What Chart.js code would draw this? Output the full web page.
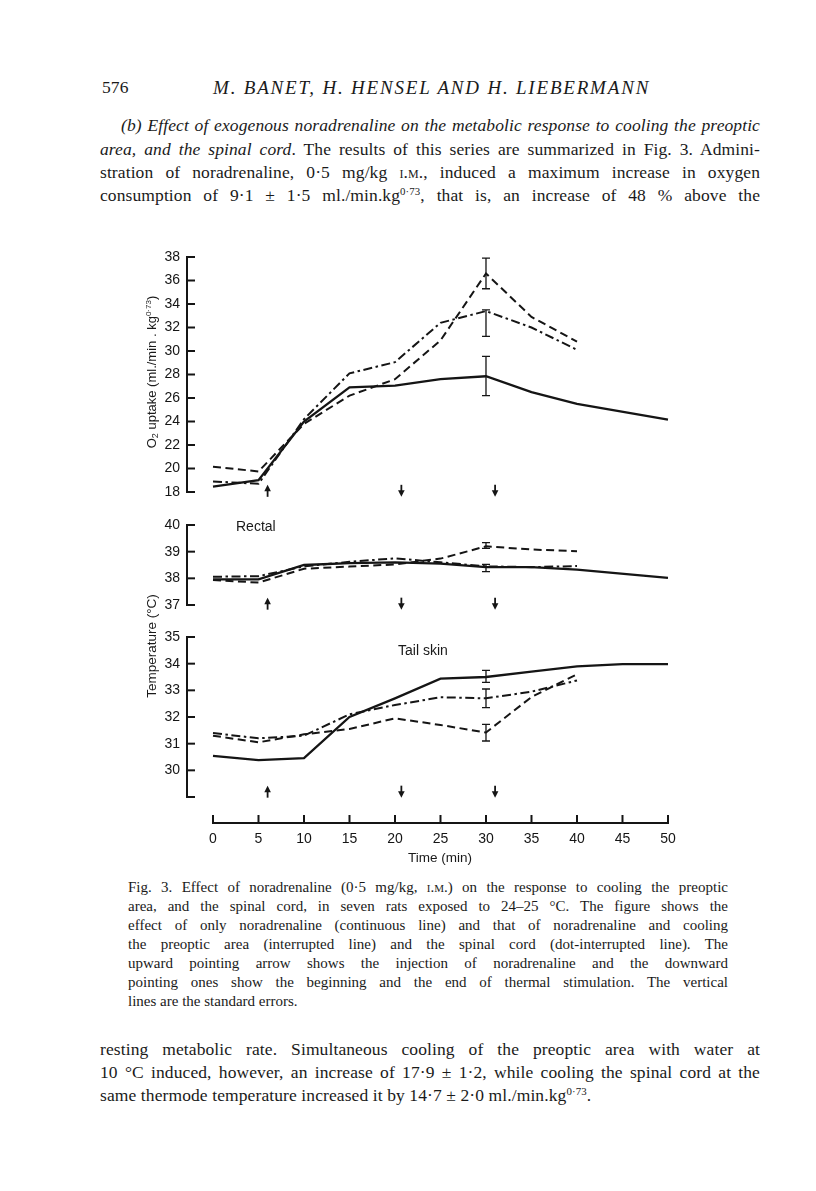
<!DOCTYPE html>
<html>
<head>
<meta charset="utf-8">
<script src="https://cdn.jsdelivr.net/npm/chart.js@4.4.0/dist/chart.umd.min.js"></script>
<style>
  body { margin: 0; background: #fff; }
  #page { position: relative; width: 816px; height: 1191px; overflow: hidden; background: #fff;
          font-family: "Liberation Serif", "Times New Roman", serif; color: #1a1a1a; }
  .ln { position: absolute; left: 100px; width: 660px; height: 23px; line-height: 23px; font-size: 17.5px;
        text-align: justify; text-align-last: justify; letter-spacing: 0.1px; }
  .cap { position: absolute; left: 128px; width: 600px; height: 19px; line-height: 19px; font-size: 15px;
         text-align: justify; text-align-last: justify; }
  .left { text-align: left; text-align-last: left; }
  .sc { font-variant: small-caps; }
  sup { font-size: 62%; line-height: 0; vertical-align: 0.6em; }
  sub { font-size: 70%; line-height: 0; vertical-align: -0.25em; }
  .lab { position: absolute; font-family: "Liberation Sans", Arial, sans-serif; font-size: 13px;
         color: #1a1a1a; white-space: nowrap; line-height: 15px; }
  .ctr { transform: translate(-50%, -50%); }
  .rot { transform: translate(-50%, -50%) rotate(-90deg); }
  canvas { position: absolute; }
</style>
</head>
<body>
<div id="page">
  <div class="ln left" style="top:76px;left:102px;width:60px">576</div>
  <div class="ln left" style="top:76px;left:213px;width:480px;font-size:19px;font-style:italic;letter-spacing:1.8px">M. BANET, H. HENSEL AND H. LIEBERMANN</div>

  <div class="ln" style="top:114px;left:121px;width:639px"><i>(b) Effect of exogenous noradrenaline on the metabolic response to cooling the preoptic</i></div>
  <div class="ln" style="top:138px"><i>area, and the spinal cord</i>. The results of this series are summarized in Fig. 3. Admini-</div>
  <div class="ln" style="top:161px">stration of noradrenaline, 0·5 mg/kg <span class="sc">i.m.</span>, induced a maximum increase in oxygen</div>
  <div class="ln" style="top:184px">consumption of 9·1 ± 1·5 ml./min.kg<sup>0·73</sup>, that is, an increase of 48 % above the</div>

  <canvas id="o2" width="600" height="255" style="left:120px;top:247px"></canvas>
  <canvas id="rectal" width="600" height="100" style="left:120px;top:515px"></canvas>
  <canvas id="tail" width="600" height="226" style="left:120px;top:627px"></canvas>

  <div class="lab rot" style="left:151px;top:372px">O<sub>2</sub> uptake (ml./min . kg<sup>0·73</sup>)</div>
  <div class="lab rot" style="left:151px;top:646px;font-size:13.5px">Temperature (°C)</div>
  <div class="lab" style="left:236px;top:519px;font-size:14px">Rectal</div>
  <div class="lab" style="left:398px;top:643px;font-size:14px">Tail skin</div>
  <div class="lab ctr" style="left:440px;top:857px;font-size:13.5px">Time (min)</div>

  <div class="cap" style="top:878px">Fig. 3. Effect of noradrenaline (0·5 mg/kg, <span class="sc">i.m.</span>) on the response to cooling the preoptic</div>
  <div class="cap" style="top:897px">area, and the spinal cord, in seven rats exposed to 24–25 °C. The figure shows the</div>
  <div class="cap" style="top:916px">effect of only noradrenaline (continuous line) and that of noradrenaline and cooling</div>
  <div class="cap" style="top:935px">the preoptic area (interrupted line) and the spinal cord (dot-interrupted line). The</div>
  <div class="cap" style="top:954px">upward pointing arrow shows the injection of noradrenaline and the downward</div>
  <div class="cap" style="top:973px">pointing ones show the beginning and the end of thermal stimulation. The vertical</div>
  <div class="cap left" style="top:992px">lines are the standard errors.</div>

  <div class="ln" style="top:1038px">resting metabolic rate. Simultaneous cooling of the preoptic area with water at</div>
  <div class="ln" style="top:1061px">10 °C induced, however, an increase of 17·9 ± 1·2, while cooling the spinal cord at the</div>
  <div class="ln left" style="top:1084px">same thermode temperature increased it by 14·7 ± 2·0 ml./min.kg<sup>0·73</sup>.</div>
</div>

<script>
// time points (min); null = no point at that time
const minutes = [0, 5, 10, 15, 20, 25, 30, 35, 40, 45, 50];

// O2 uptake (ml./min.kg^0.73)
const o2Noradrenaline = [18.45, 19.0, 24.0, 26.9, 27.05, 27.6, 27.85, 26.5, 25.5, null, 24.15];
const o2Preoptic      = [20.15, 19.75, 23.8, 26.2, 27.6, 30.9, 36.6, 32.9, 30.8];
const o2Spinal        = [18.9, 18.7, 24.2, 28.1, 29.05, 32.4, 33.4, 32.0, 30.1];
const o2ErrLow  = [26.2, 35.3, 31.25];
const o2ErrHigh = [29.55, 37.9, 33.5];
const o2Ticks = [18, 20, 22, 24, 26, 28, 30, 32, 34, 36, 38];

// rectal temperature (°C)
const rectalNoradrenaline = [37.96, 37.96, 38.5, 38.57, 38.6, 38.55, 38.42, 38.42, 38.33, null, 38.02];
const rectalPreoptic      = [37.94, 37.84, 38.36, 38.44, 38.52, 38.74, 39.2, 39.08, 39.02];
const rectalSpinal        = [38.06, 38.08, 38.45, 38.62, 38.75, 38.6, 38.45, 38.42, 38.46];
const rectalErrLow  = [38.25, 39.12];
const rectalErrHigh = [38.52, 39.34];
const rectalTicks = [37, 38, 39, 40];

// tail skin temperature (°C)
const tailNoradrenaline = [30.54, 30.38, 30.46, 32.0, 32.7, 33.44, 33.5, 33.7, 33.9, 33.98, 33.98];
const tailPreoptic      = [31.3, 31.05, 31.35, 31.55, 31.95, 31.7, 31.42, 32.75, 33.6];
const tailSpinal        = [31.4, 31.2, 31.3, 32.1, 32.45, 32.74, 32.7, 32.95, 33.37];
const tailErrLow  = [33.3, 31.1, 32.35];
const tailErrHigh = [33.75, 31.72, 33.05];
const tailTicks = [29, 30, 31, 32, 33, 34, 35];

const errTime = 30;
const timeTicks = [0, 5, 10, 15, 20, 25, 30, 35, 40, 45, 50];

// injection (up) and start/end of cooling (down)
const arrowTimes = [6, 20.7, 31];
const arrowUp = [true, false, false];

const INK = "#151515";
const SANS = "'Liberation Sans', Arial, sans-serif";
const X_MIN = -2.857, X_MAX = 51.32;
const SOLID = [], DASHED = [8, 4.5], DOTDASH = [9, 3.5, 2.5, 3.5];

function series(vals) {
  return vals.map((v, i) => ({ x: minutes[i], y: v })).filter((p) => p.y != null);
}

function line(data, dash) {
  return {
    data: series(data),
    borderColor: INK,
    borderWidth: dash.length ? 2 : 2.3,
    borderDash: dash,
    pointRadius: 0,
    tension: 0,
    spanGaps: true,
  };
}

function drawArrow(ctx, x, y, up) {
  const d = up ? -1 : 1;
  const tip = y + d * 6;
  ctx.lineWidth = 1.8;
  ctx.beginPath();
  ctx.moveTo(x, y - d * 6);
  ctx.lineTo(x, tip - d * 3);
  ctx.stroke();
  ctx.beginPath();
  ctx.moveTo(x, tip);
  ctx.lineTo(x - 3.3, tip - d * 6.5);
  ctx.lineTo(x + 3.3, tip - d * 6.5);
  ctx.closePath();
  ctx.fill();
}

const figurePlugin = {
  id: "figure",
  afterDatasetsDraw(chart, _args, o) {
    const { ctx, chartArea } = chart;
    const xs = chart.scales.x, ys = chart.scales.y;
    const left = chartArea.left;
    ctx.save();
    ctx.strokeStyle = INK;
    ctx.fillStyle = INK;

    // y axis with inward ticks
    ctx.lineWidth = 2;
    ctx.beginPath();
    ctx.moveTo(left, ys.getPixelForValue(o.axisMax) - 1);
    ctx.lineTo(left, ys.getPixelForValue(o.axisMin) + 1);
    ctx.stroke();
    ys.ticks.forEach((t) => {
      const p = ys.getPixelForValue(t.value);
      ctx.beginPath();
      ctx.moveTo(left - 1, p);
      ctx.lineTo(left + 8, p);
      ctx.stroke();
    });

    // standard errors
    ctx.lineWidth = 1.3;
    const ex = xs.getPixelForValue(errTime);
    o.errLow.forEach((lo, i) => {
      const a = ys.getPixelForValue(lo), b = ys.getPixelForValue(o.errHigh[i]);
      ctx.beginPath();
      ctx.moveTo(ex, a); ctx.lineTo(ex, b);
      ctx.moveTo(ex - 4, a); ctx.lineTo(ex + 4, a);
      ctx.moveTo(ex - 4, b); ctx.lineTo(ex + 4, b);
      ctx.stroke();
    });

    arrowTimes.forEach((t, i) => {
      drawArrow(ctx, xs.getPixelForValue(t), ys.getPixelForValue(o.arrowLevel), arrowUp[i]);
    });

    // detached time axis, ticks pointing up
    if (o.timeAxis) {
      const y0 = chartArea.bottom;
      ctx.lineWidth = 2;
      ctx.beginPath();
      ctx.moveTo(xs.getPixelForValue(timeTicks[0]) - 1, y0);
      ctx.lineTo(xs.getPixelForValue(timeTicks[timeTicks.length - 1]) + 1, y0);
      ctx.stroke();
      xs.ticks.forEach((t) => {
        const p = xs.getPixelForValue(t.value);
        ctx.beginPath();
        ctx.moveTo(p, y0);
        ctx.lineTo(p, y0 - 8);
        ctx.stroke();
      });
    }
    ctx.restore();
  },
};

function yScale(min, max, ticks, hide) {
  return {
    type: "linear",
    min, max,
    afterBuildTicks: (s) => { s.ticks = ticks.map((v) => ({ value: v })); },
    afterFit: (s) => { s.width = 67; s.paddingTop = 0; s.paddingBottom = 0; },
    grid: { display: false, drawTicks: false },
    border: { display: false },
    ticks: {
      color: INK, padding: 7, font: { family: SANS, size: 14 },
      callback: (v) => (hide && hide.includes(v) ? "" : v),
    },
  };
}

function panel(id, datasets, y, plug, timeAxis) {
  const x = timeAxis
    ? {
        type: "linear", min: X_MIN, max: X_MAX,
        afterBuildTicks: (s) => { s.ticks = timeTicks.map((v) => ({ value: v })); },
        afterFit: (s) => { s.height = 30; s.paddingLeft = 0; s.paddingRight = 0; },
        grid: { display: false, drawTicks: false },
        border: { display: false },
        ticks: { color: INK, padding: 8, autoSkip: false, maxRotation: 0, font: { family: SANS, size: 14 } },
      }
    : { type: "linear", min: X_MIN, max: X_MAX, display: false };

  new Chart(document.getElementById(id), {
    type: "line",
    data: { datasets },
    options: {
      responsive: false,
      animation: false,
      events: [],
      layout: { padding: { top: 10, bottom: timeAxis ? 0 : 10, left: 0, right: 40 } },
      plugins: { legend: { display: false }, tooltip: { enabled: false }, figure: { ...plug, timeAxis } },
      scales: { x, y },
    },
    plugins: [figurePlugin],
  });
}

panel("o2", [line(o2Noradrenaline, SOLID), line(o2Preoptic, DASHED), line(o2Spinal, DOTDASH)],
  yScale(18, 38, o2Ticks),
  { axisMin: 18, axisMax: 38, errLow: o2ErrLow, errHigh: o2ErrHigh, arrowLevel: 18.1 }, false);

panel("rectal", [line(rectalNoradrenaline, SOLID), line(rectalPreoptic, DASHED), line(rectalSpinal, DOTDASH)],
  yScale(37, 40, rectalTicks),
  { axisMin: 37, axisMax: 40, errLow: rectalErrLow, errHigh: rectalErrHigh, arrowLevel: 37.05 }, false);

panel("tail", [line(tailNoradrenaline, SOLID), line(tailPreoptic, DASHED), line(tailSpinal, DOTDASH)],
  yScale(28.025, 35, tailTicks, [29]),
  { axisMin: 29, axisMax: 35, errLow: tailErrLow, errHigh: tailErrHigh, arrowLevel: 29.2 }, true);
</script>
</body>
</html>
